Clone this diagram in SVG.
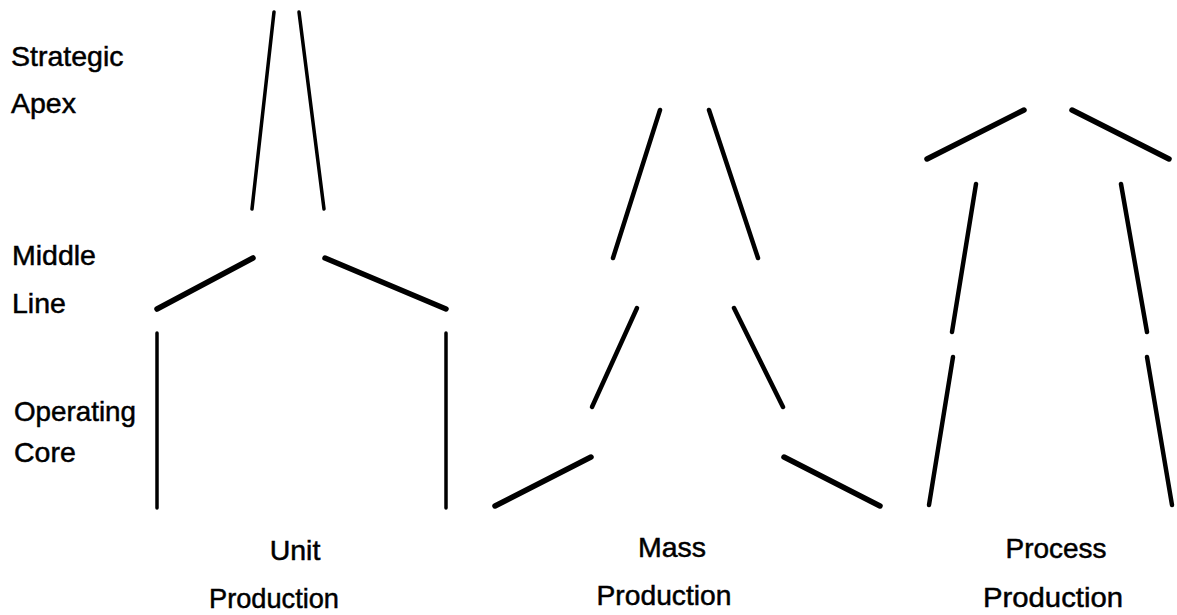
<svg xmlns="http://www.w3.org/2000/svg" width="1177" height="615" viewBox="0 0 1177 615">
  <style>
    .bg { fill: #ffffff; }
    .lbl { font-family: "Liberation Sans", Arial, Helvetica, sans-serif; font-size: 28.5px; fill: #000000; stroke: #000000; stroke-width: 0.5; }
    .mid { text-anchor: middle; }
    .edge { stroke: #000000; fill: none; stroke-linecap: round; }
    .thin { stroke-width: 3.5; }
    .bold { stroke-width: 4.5; }
    .heavy { stroke-width: 5.5; }
  </style>
  <rect class="bg" x="0" y="0" width="1177" height="615"/>

  <!-- row labels on the left -->
  <g id="row-labels">
    <text class="lbl" x="11" y="66">Strategic</text>
    <text class="lbl" x="11" y="113">Apex</text>
    <text class="lbl" x="12" y="265">Middle</text>
    <text class="lbl" x="12" y="313">Line</text>
    <text class="lbl" x="14" y="421" textLength="122" lengthAdjust="spacingAndGlyphs">Operating</text>
    <text class="lbl" x="14" y="462">Core</text>
  </g>

  <!-- outline strokes of the three organisation shapes -->
  <g id="connectors">
    <!-- unit production -->
    <g id="unit-shape">
      <line class="edge thin" x1="274" y1="12" x2="252" y2="209"/>
      <line class="edge thin" x1="299" y1="12" x2="324" y2="209"/>
      <line class="edge heavy" x1="253" y1="258" x2="157" y2="309"/>
      <line class="edge heavy" x1="325" y1="258" x2="446" y2="309"/>
      <line class="edge thin" x1="157" y1="333" x2="157" y2="508"/>
      <line class="edge thin" x1="446" y1="333" x2="446" y2="508"/>
    </g>
    <!-- mass production -->
    <g id="mass-shape">
      <line class="edge bold" x1="660" y1="110" x2="613" y2="258"/>
      <line class="edge bold" x1="709" y1="110" x2="758" y2="258"/>
      <line class="edge bold" x1="637" y1="308" x2="592" y2="407"/>
      <line class="edge bold" x1="734" y1="308" x2="783" y2="407"/>
      <line class="edge heavy" x1="591" y1="457" x2="495" y2="506"/>
      <line class="edge heavy" x1="784" y1="457" x2="880" y2="506"/>
    </g>
    <!-- process production -->
    <g id="process-shape">
      <line class="edge heavy" x1="1024" y1="110" x2="927" y2="159"/>
      <line class="edge heavy" x1="1072" y1="110" x2="1169" y2="159"/>
      <line class="edge bold" x1="976" y1="184" x2="952" y2="332"/>
      <line class="edge bold" x1="1121" y1="184" x2="1147" y2="332"/>
      <line class="edge bold" x1="953" y1="357" x2="929" y2="505"/>
      <line class="edge bold" x1="1147" y1="357" x2="1172" y2="505"/>
    </g>
  </g>

  <!-- captions under each shape -->
  <g id="unit-caption">
    <text class="lbl mid" x="295" y="560">Unit</text>
    <text class="lbl mid" x="274" y="608" textLength="130" lengthAdjust="spacingAndGlyphs">Production</text>
  </g>
  <g id="mass-caption">
    <text class="lbl mid" x="672" y="557">Mass</text>
    <text class="lbl mid" x="664" y="605" textLength="135" lengthAdjust="spacingAndGlyphs">Production</text>
  </g>
  <g id="process-caption">
    <text class="lbl mid" x="1056" y="558" textLength="101" lengthAdjust="spacingAndGlyphs">Process</text>
    <text class="lbl mid" x="1053" y="607" textLength="140" lengthAdjust="spacingAndGlyphs">Production</text>
  </g>
</svg>
